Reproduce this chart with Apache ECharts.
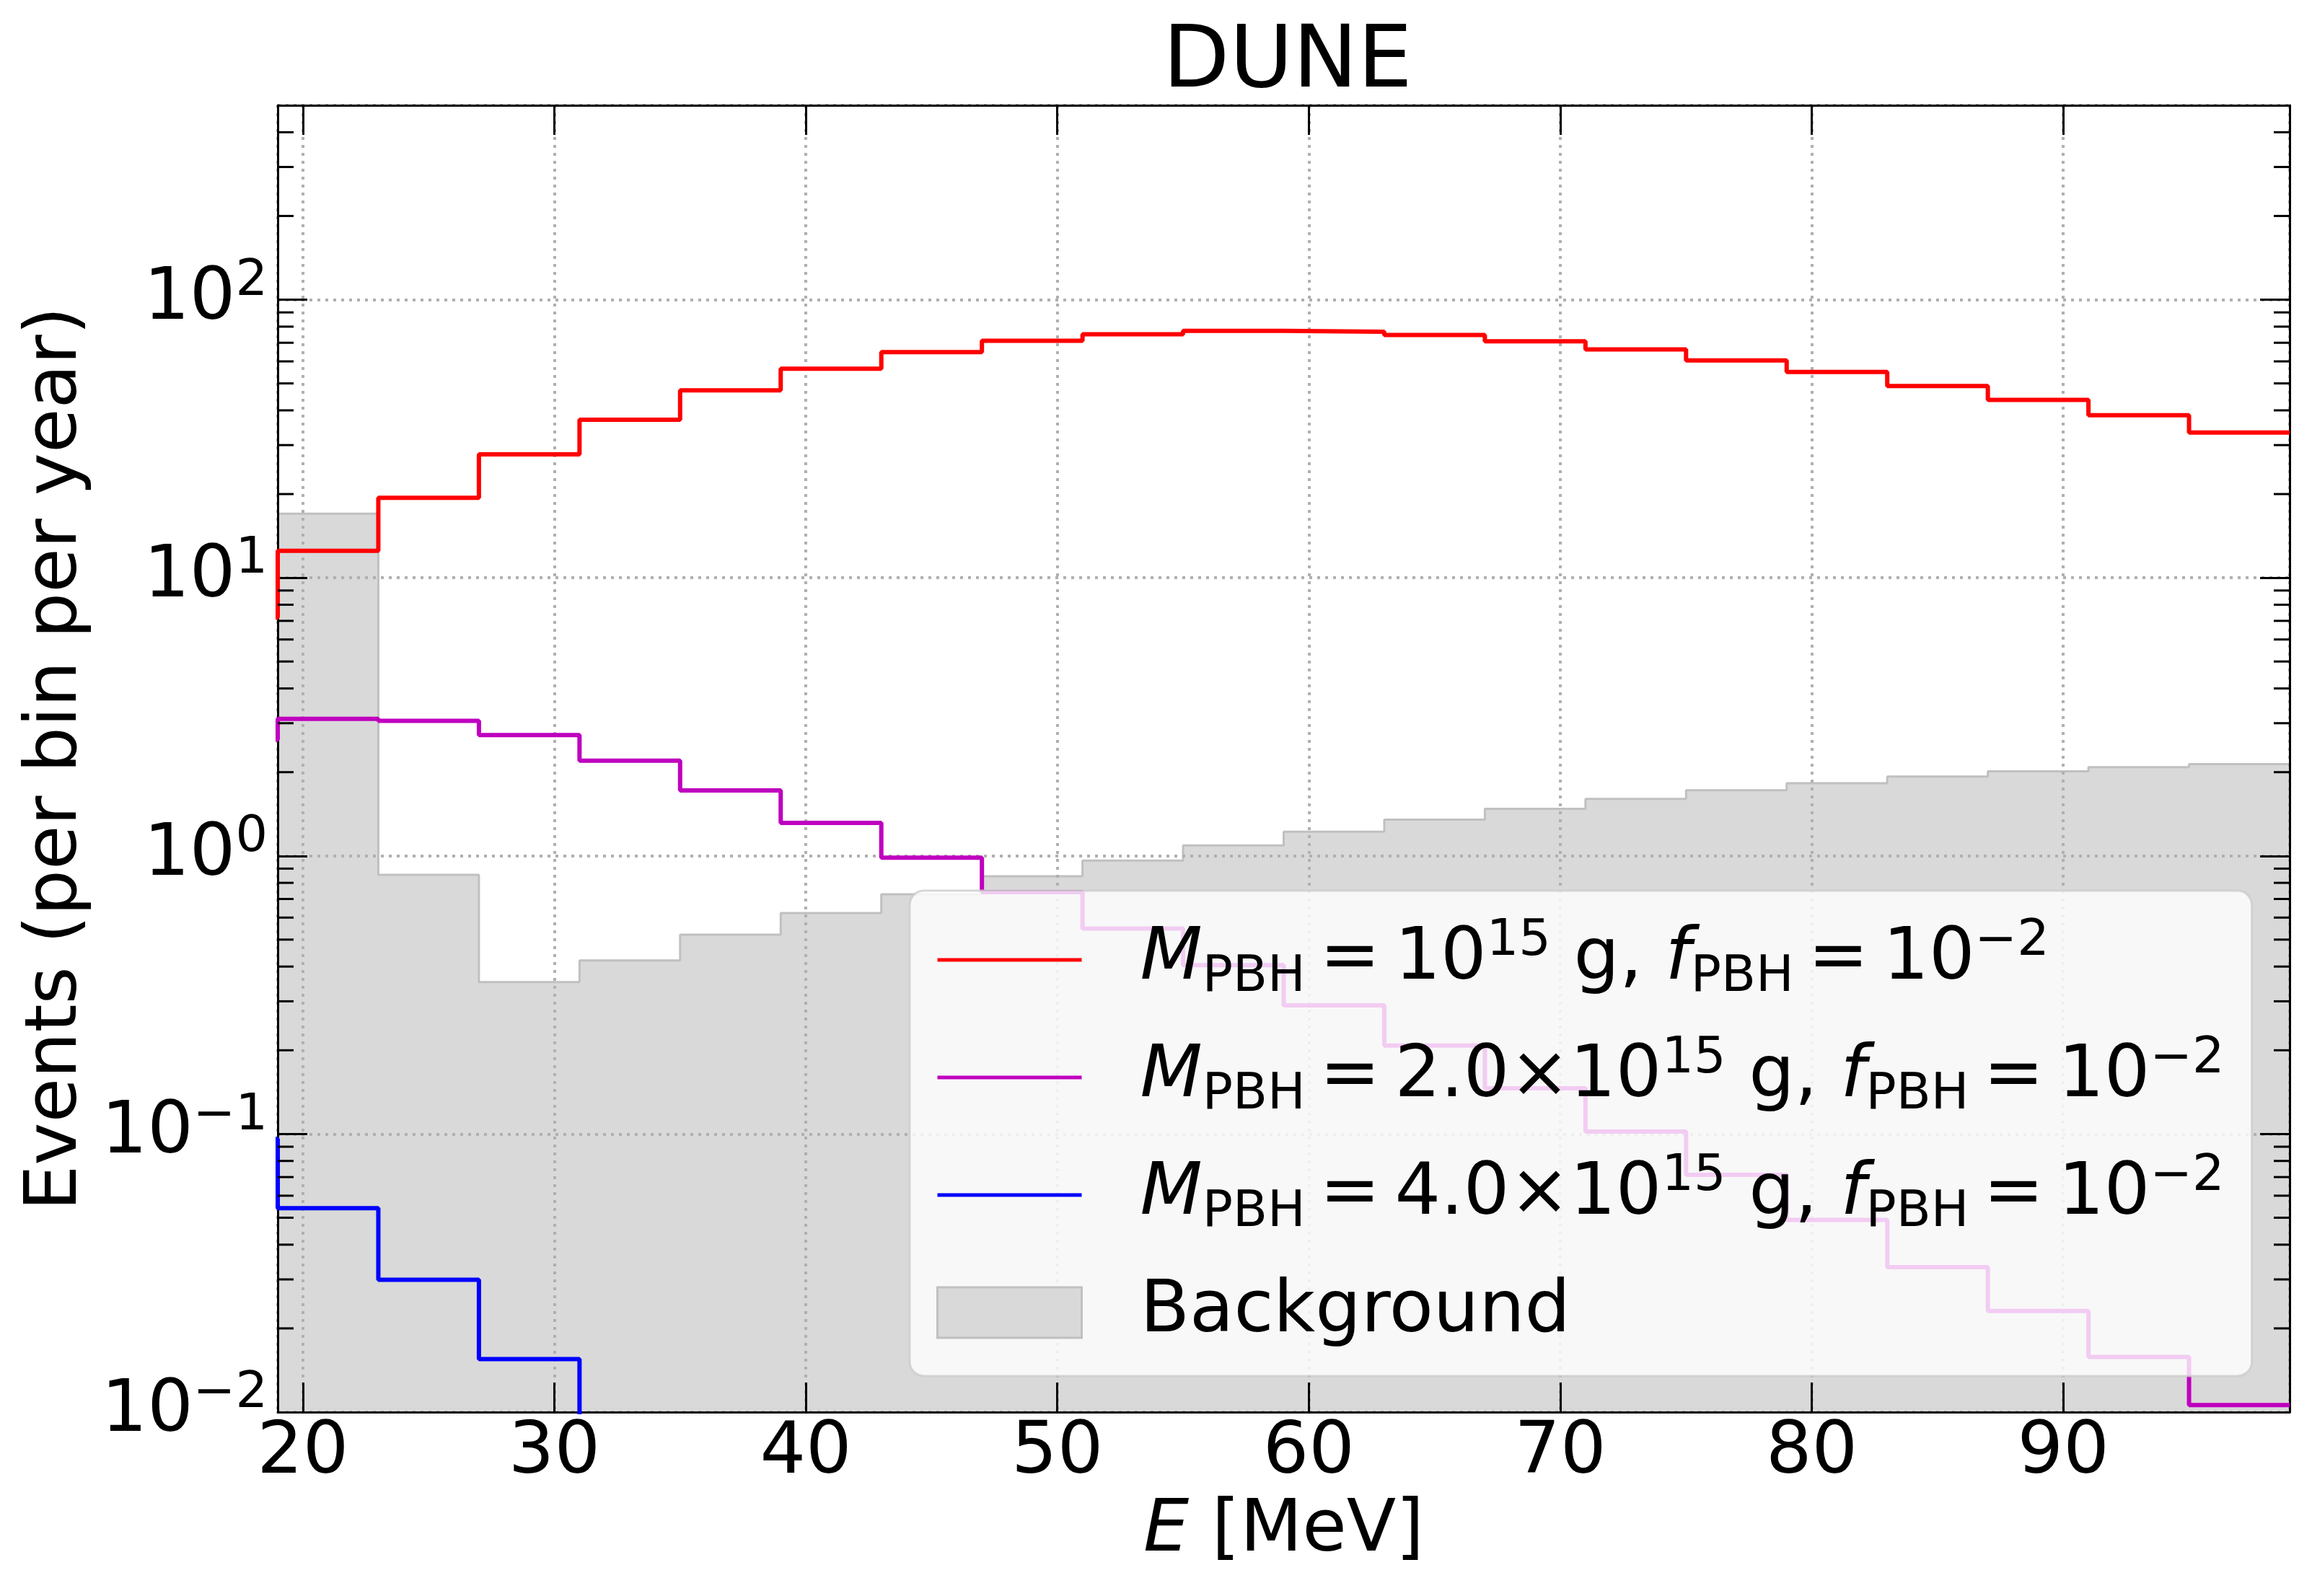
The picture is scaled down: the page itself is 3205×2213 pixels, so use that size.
<!DOCTYPE html>
<html>
<head>
<meta charset="utf-8">
<title>DUNE</title>
<script src="https://cdn.jsdelivr.net/npm/echarts@6.0.0/dist/echarts.min.js"></script>
<style>
html, body { margin: 0; padding: 0; background: #fff; }
#main { width: 3205px; height: 2213px; }
</style>
</head>
<body>
<div id="main"></div>
<script>
// bin edges in MeV (first bin 15-19 lies just left of the plot, only its step at 19 shows)
var edges = [15, 19, 23, 27, 31, 35, 39, 43, 47, 51, 55, 59, 63, 67, 71, 75, 79, 83, 87, 91, 95, 99];

// events per bin per year, one value per bin starting at 15 MeV
var m1e15 = [7.2, 12.5, 19.4, 27.8, 37.0, 47.2, 56.5, 64.8, 71.2, 75.1, 77.3,
             76.7, 74.6, 70.9, 66.2, 60.5, 55.0, 48.9, 43.6, 38.4, 33.3];
var m2e15 = [2.62, 3.11, 3.06, 2.72, 2.20, 1.72, 1.315, 0.985, 0.741, 0.548, 0.405,
             0.290, 0.208, 0.146, 0.102, 0.0713, 0.0491, 0.0332, 0.0231, 0.0158, 0.0106];
var m4e15 = [0.096, 0.0541, 0.0299, 0.0155, 0.007];

// background, one value per bin starting at 19 MeV
var bgEdges = edges.slice(1);
var background = [17.0, 0.855, 0.352, 0.421, 0.521, 0.623, 0.728, 0.845, 0.962, 1.09,
                  1.222, 1.350, 1.476, 1.602, 1.722, 1.825, 1.928, 2.015, 2.086, 2.137];

var EQ = '\u2009=\u2009';
var legendText = {
    m1: '{i|M}{s|PBH}{t|' + EQ + '10}{p|15}{t| g, }{i|f}{s|PBH}{t|' + EQ + '10}{p|\u22122}',
    m2: '{i|M}{s|PBH}{t|' + EQ + '2.0\u00d710}{p|15}{t| g, }{i|f}{s|PBH}{t|' + EQ + '10}{p|\u22122}',
    m4: '{i|M}{s|PBH}{t|' + EQ + '4.0\u00d710}{p|15}{t| g, }{i|f}{s|PBH}{t|' + EQ + '10}{p|\u22122}',
    bg: '{t|Background}'
};

var FONT = 'DejaVu Sans';
var LINE_ICON = 'path://M0,0H200V5H0Z';

// turn bin values into step points: [left edge, value] plus a closing point
function stepPoints(lo, vals) {
    var pts = [];
    for (var i = 0; i < vals.length; i++) {
        pts.push([lo[i], vals[i]]);
    }
    pts.push([lo[vals.length], vals[vals.length - 1]]);
    return pts;
}

// minor ticks of the log axis (2..9 per decade)
var minorTicks = [];
for (var d = -2; d <= 2; d++) {
    for (var k = 2; k <= 9; k++) {
        var v = k * Math.pow(10, d);
        if (v < 500) minorTicks.push([19, v]);
    }
}

function lineSeries(name, data, color) {
    return {
        name: name,
        type: 'line',
        step: 'end',
        data: data,
        symbol: 'none',
        z: 5,
        lineStyle: { color: color, width: 6 },
        itemStyle: { color: color },
        animation: false
    };
}

var myChart = echarts.init(document.getElementById('main'));

var gridLine = { color: '#b0b0b0', width: 4, type: [4, 7] };

var option = {
    backgroundColor: '#fff',
    animation: false,
    title: {
        text: 'DUNE',
        left: 1780,
        top: 24,
        textAlign: 'center',
        textStyle: { fontFamily: FONT, fontSize: 120, fontWeight: 'normal', color: '#000' }
    },
    grid: {
        left: 385, right: 31, top: 146, bottom: 255,
        containLabel: false,
        outerBoundsMode: 'none'
    },
    legend: {
        orient: 'vertical',
        left: 1261,
        top: 1235,
        padding: [36, 38, 28, 37],
        itemWidth: 200,
        itemHeight: 70,
        itemGap: 43,
        backgroundColor: 'rgba(255,255,255,0.8)',
        borderColor: 'rgba(204,204,204,0.8)',
        borderWidth: 3,
        borderRadius: 20,
        selectedMode: false,
        z: 10,
        data: [
            { name: 'm1', icon: LINE_ICON, symbolKeepAspect: true, itemStyle: { color: '#ff0000' } },
            { name: 'm2', icon: LINE_ICON, symbolKeepAspect: true, itemStyle: { color: '#bf00bf' } },
            { name: 'm4', icon: LINE_ICON, symbolKeepAspect: true, itemStyle: { color: '#0000ff' } },
            { name: 'bg', icon: 'rect', itemStyle: { color: '#d9d9d9', borderColor: '#c0c0c0', borderWidth: 3 } }
        ],
        formatter: function (name) { return legendText[name]; },
        textStyle: {
            fontFamily: FONT, fontSize: 100, color: '#000', lineHeight: 120,
            padding: [0, 0, 0, 76],
            rich: {
                t: { fontFamily: FONT, fontSize: 100, lineHeight: 120, color: '#000' },
                i: { fontFamily: FONT, fontSize: 100, lineHeight: 120, fontStyle: 'italic', color: '#000' },
                s: { fontFamily: FONT, fontSize: 70, lineHeight: 70, verticalAlign: 'bottom', color: '#000' },
                p: { fontFamily: FONT, fontSize: 70, lineHeight: 50, verticalAlign: 'top', color: '#000' }
            }
        }
    },
    xAxis: [{
        type: 'value',
        min: 19,
        max: 99,
        splitNumber: 8,
        z: 3,
        name: '{i|E} [MeV]',
        nameLocation: 'middle',
        nameGap: 116,
        nameTextStyle: {
            fontFamily: FONT, fontSize: 100, color: '#000', lineHeight: 100,
            rich: {
                i: { fontFamily: FONT, fontSize: 100, fontStyle: 'italic', color: '#000' }
            }
        },
        axisLine: { show: true, onZero: false, lineStyle: { color: '#000', width: 3 } },
        axisTick: { show: true, inside: true, length: 41, lineStyle: { color: '#000', width: 3 } },
        axisLabel: {
            fontFamily: FONT, fontSize: 100, color: '#000', margin: 8, lineHeight: 100,
            formatter: function (v) { return v % 10 === 0 ? String(v) : ''; }
        },
        splitLine: { show: true, lineStyle: gridLine }
    }, {
        type: 'value',
        min: 19,
        max: 99,
        splitNumber: 8,
        position: 'top',
        z: 3,
        axisLine: { show: true, onZero: false, lineStyle: { color: '#000', width: 3 } },
        axisTick: { show: true, inside: true, length: 41, lineStyle: { color: '#000', width: 3 } },
        axisLabel: { show: false },
        splitLine: { show: false }
    }],
    yAxis: [{
        type: 'log',
        logBase: 10,
        min: 0.01,
        max: 500,
        z: 3,
        name: 'Events (per bin per year)',
        nameLocation: 'middle',
        nameGap: 256,
        nameTextStyle: { fontFamily: FONT, fontSize: 100, color: '#000', lineHeight: 100 },
        axisLine: { show: true, onZero: false, lineStyle: { color: '#000', width: 3 } },
        axisTick: { show: true, inside: true, length: 41, lineStyle: { color: '#000', width: 3 } },
        axisLabel: {
            margin: 14,
            fontFamily: FONT, fontSize: 100, color: '#000',
            formatter: function (v) {
                var l = Math.log10(v);
                var e = Math.round(l);
                if (Math.abs(l - e) > 1e-6) return '';
                return '{b|10}{p|' + (e < 0 ? '\u2212' + (-e) : e) + '}';
            },
            rich: {
                b: { fontFamily: FONT, fontSize: 100, lineHeight: 120, color: '#000' },
                p: { fontFamily: FONT, fontSize: 70, lineHeight: 50, verticalAlign: 'top', color: '#000' }
            }
        },
        splitLine: { show: true, lineStyle: gridLine }
    }, {
        type: 'log',
        logBase: 10,
        min: 0.01,
        max: 500,
        position: 'right',
        z: 3,
        axisLine: { show: true, onZero: false, lineStyle: { color: '#000', width: 3 } },
        axisTick: { show: true, inside: true, length: 41, lineStyle: { color: '#000', width: 3 } },
        axisLabel: { show: false },
        splitLine: { show: false }
    }],
    series: [
        {
            name: 'bg',
            type: 'line',
            step: 'end',
            data: stepPoints(bgEdges, background),
            symbol: 'none',
            z: 1,
            lineStyle: { color: '#c0c0c0', width: 3 },
            itemStyle: { color: '#d9d9d9' },
            areaStyle: { color: '#d9d9d9', opacity: 1, origin: 'start' },
            animation: false
        },
        lineSeries('m1', stepPoints(edges, m1e15), '#ff0000'),
        lineSeries('m2', stepPoints(edges, m2e15), '#bf00bf'),
        lineSeries('m4', stepPoints(edges, m4e15), '#0000ff'),
        {
            name: 'minor',
            type: 'custom',
            data: minorTicks,
            silent: true,
            z: 6,
            renderItem: function (params, api) {
                var y = api.coord([19, api.value(1)])[1];
                var cs = params.coordSys;
                var st = { stroke: '#000', lineWidth: 3 };
                return {
                    type: 'group',
                    children: [
                        { type: 'line', shape: { x1: cs.x, y1: y, x2: cs.x + 22, y2: y }, style: st },
                        { type: 'line', shape: { x1: cs.x + cs.width - 22, y1: y, x2: cs.x + cs.width, y2: y }, style: st }
                    ]
                };
            },
            animation: false
        }
    ]
};

myChart.setOption(option);
</script>
</body>
</html>
